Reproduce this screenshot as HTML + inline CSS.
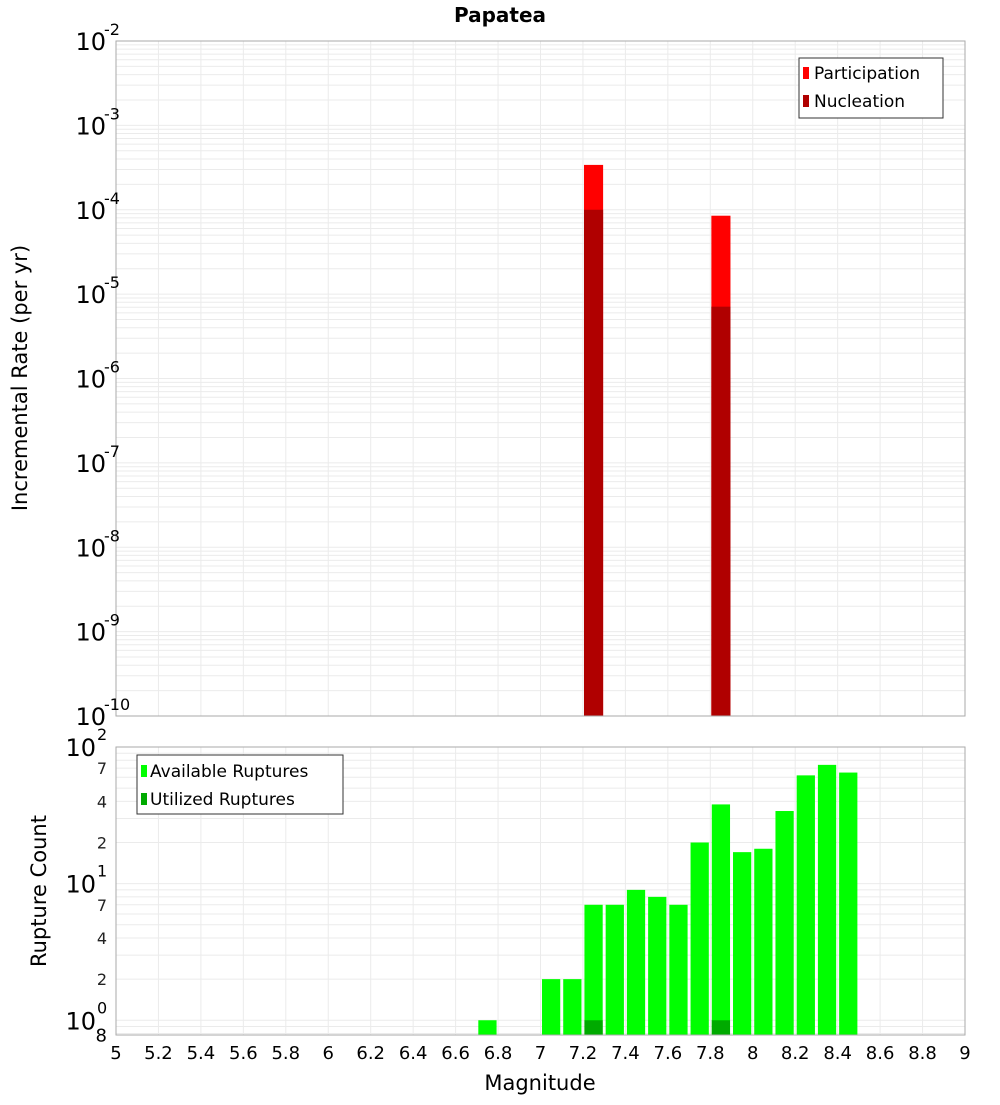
<!DOCTYPE html>
<html><head><meta charset="utf-8"><style>
body{margin:0;background:#fff;}
svg{font-family:"DejaVu Sans","Liberation Sans",sans-serif;}
</style></head><body>
<svg id="c" width="1000" height="1100" xmlns="http://www.w3.org/2000/svg">
<text x="500" y="22" text-anchor="middle" font-size="20" font-weight="bold">Papatea</text>
<g id="topg"></g>
<g id="botg"></g>
<text transform="translate(27,378) rotate(-90)" text-anchor="middle" font-size="21">Incremental Rate (per yr)</text>
<text transform="translate(46,891) rotate(-90)" text-anchor="middle" font-size="21">Rupture Count</text>
<text x="540" y="1090" text-anchor="middle" font-size="21">Magnitude</text>
<g>
<rect x="799" y="58" width="144" height="60" fill="#fff" stroke="#333"/>
<rect x="803" y="67" width="6" height="12" fill="#ff0000"/>
<text x="814" y="79" font-size="17">Participation</text>
<rect x="803" y="95" width="6" height="12" fill="#b00000"/>
<text x="814" y="107" font-size="17">Nucleation</text>
</g>
<g>
<rect x="137" y="755" width="206" height="59" fill="#fff" stroke="#333"/>
<rect x="141" y="765" width="6" height="12" fill="#00ff00"/>
<text x="150" y="777" font-size="17">Available Ruptures</text>
<rect x="141" y="793" width="6" height="12" fill="#00aa00"/>
<text x="150" y="805" font-size="17">Utilized Ruptures</text>
</g>
</svg>
<script>
const xTicks=[5,5.2,5.4,5.6,5.8,6,6.2,6.4,6.6,6.8,7,7.2,7.4,7.6,7.8,8,8.2,8.4,8.6,8.8,9];
const rateMags=[7.25,7.85];
const participation=[3.4e-4,8.5e-5];
const nucleation=[1.0e-4,7.1e-6];
const countMags=[6.75,7.05,7.15,7.25,7.35,7.45,7.55,7.65,7.75,7.85,7.95,8.05,8.15,8.25,8.35,8.45];
const available=[1,2,2,7,7,9,8,7,20,38,17,18,34,62,74,65];
const utilMags=[7.25,7.85];
const utilized=[1,1];

(function(){
const NS="http://www.w3.org/2000/svg";
const X0=116,X1=965;
const sx=m=>X0+(m-5)/4*(X1-X0);
const T0=41,T1=716,tMin=-10,tMax=-2;
const ty=v=>T1-(Math.log10(v)-tMin)/(tMax-tMin)*(T1-T0);
const B0=747,B1=1035,bMin=Math.log10(0.78),bMax=2;
const by=v=>B1-(Math.log10(v)-bMin)/(bMax-bMin)*(B1-B0);
function mk(p,t,a,txt){const e=document.createElementNS(NS,t);for(const k in a)e.setAttribute(k,a[k]);if(txt!==undefined)e.textContent=txt;p.appendChild(e);return e;}
const topG=document.getElementById('topg'),botG=document.getElementById('botg');
function frame(g,y0,y1,fy,lmin,lmax){
  mk(g,'rect',{x:X0,y:y0,width:X1-X0,height:y1-y0,fill:'#fff'});
  for(let d=Math.floor(lmin);d<=lmax;d++)for(let k=1;k<10;k++){const v=k*Math.pow(10,d);const l=Math.log10(v);if(l<lmin-1e-9||l>lmax+1e-9)continue;
    const ln=mk(g,'line',{x1:X0,x2:X1,y1:fy(v),y2:fy(v),stroke:'#ebebeb','stroke-width':1});
    
    }
  xTicks.forEach(t=>{const ln=mk(g,'line',{x1:sx(t),x2:sx(t),y1:y0,y2:y1,stroke:'#ebebeb'});
    
    });
}
frame(topG,T0,T1,ty,tMin,tMax);
frame(botG,B0,B1,by,bMin,bMax);
rateMags.forEach((m,i)=>{
  const x=sx(m-0.045),w=sx(m+0.045)-x;
  const r=mk(topG,'rect',{x:x,y:ty(participation[i]),width:w,height:T1-ty(participation[i]),fill:'#ff0000'});
  
  
  const n=mk(topG,'rect',{x:x,y:ty(nucleation[i]),width:w,height:T1-ty(nucleation[i]),fill:'#b00000'});
  
  
});
countMags.forEach((m,i)=>{
  const x=sx(m-0.043),w=sx(m+0.043)-x;
  const r=mk(botG,'rect',{x:x,y:by(available[i]),width:w,height:B1-by(available[i]),fill:'#00ff00'});
  
  
});
utilMags.forEach((m,i)=>{
  const x=sx(m-0.043),w=sx(m+0.043)-x;
  const r=mk(botG,'rect',{x:x,y:by(utilized[i]),width:w,height:B1-by(utilized[i]),fill:'#00aa00'});
  
  
});
mk(topG,'rect',{x:X0,y:T0,width:X1-X0,height:T1-T0,fill:'none',stroke:'#aaa'});
mk(botG,'rect',{x:X0,y:B0,width:X1-X0,height:B1-B0,fill:'none',stroke:'#aaa'});
for(let d=tMin;d<=tMax;d++){
  const y=ty(Math.pow(10,d));
  const t=mk(topG,'text',{x:106,y:y+9,'text-anchor':'end','font-size':24},'10');
  
  
  const s=mk(topG,'text',{x:104,y:y-6,'font-size':16},String(d));
  
  
}
for(let d=0;d<=2;d++){
  const y=by(Math.pow(10,d));
  const t=mk(botG,'text',{x:96,y:y+9,'text-anchor':'end','font-size':24},'10');
  
  
  const s=mk(botG,'text',{x:97,y:y-7,'font-size':16},String(d));
  
  
  if(d<2)[2,4,7].forEach(k=>{const v=k*Math.pow(10,d);
    const m=mk(botG,'text',{x:107,y:by(v)+6,'text-anchor':'end','font-size':16,fill:'#222'},String(k));
    
    });
}
const m8=mk(botG,'text',{x:107,y:by(0.8)+8,'text-anchor':'end','font-size':18},'8');


xTicks.forEach(t=>{
  const e=mk(botG,'text',{x:sx(t),y:1059,'text-anchor':'middle','font-size':18},String(t));
  
  
});
})();
</script>
</body></html>
